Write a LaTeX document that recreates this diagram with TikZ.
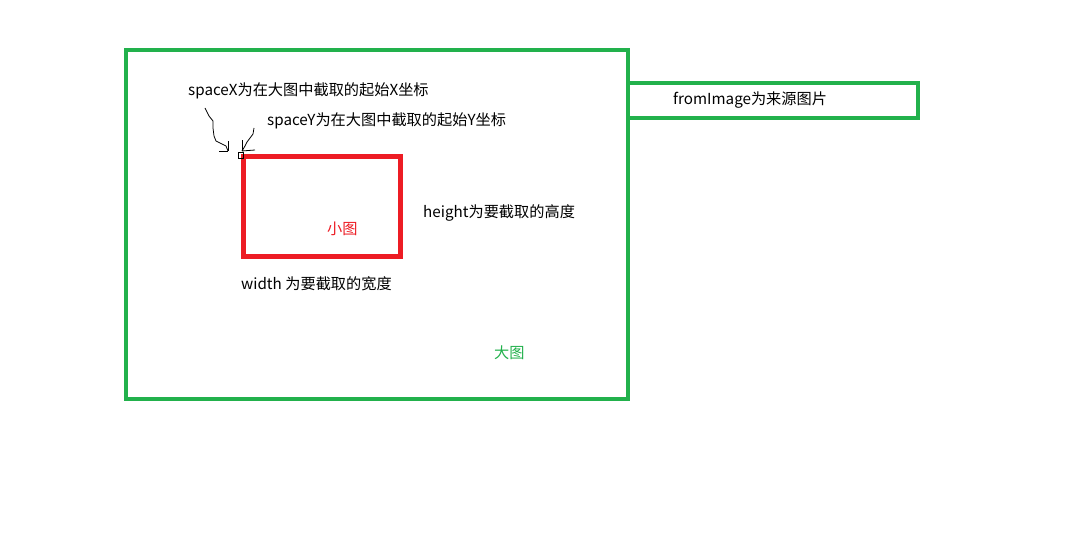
\documentclass[tikz,border=0pt]{standalone}
\usepackage{fontspec}
\setmainfont{Noto Sans CJK SC}
\definecolor{bggreen}{RGB}{34,177,76}
\definecolor{smred}{RGB}{237,28,36}
\begin{document}
\begin{tikzpicture}[x=1pt,y=-1pt,
  lbl/.style={anchor=west,inner sep=0pt,font=\fontsize{15.2}{16}\selectfont},
  gbox/.style={draw=bggreen,line width=4pt,inner sep=0pt,outer sep=0pt},
  rbox/.style={draw=smred,line width=5pt,inner sep=0pt},
  hand/.style={draw=black,line width=0.8pt}]
\useasboundingbox[fill=white] (0,0) rectangle (1079,534);
% boxes
\draw[gbox] (126,50) rectangle (628,399);
\node[gbox,minimum width=290pt,minimum height=35pt,anchor=north west] (src) at (628,83) {};
\draw[rbox] (243.5,157) rectangle (400.5,257);
% texts
\node[lbl] (sx) at (188,91) {spaceX为在大图中截取的起始X坐标};
\node[lbl] (sy) at (267,121) {spaceY为在大图中截取的起始Y坐标};
\node[lbl] (h) at (423,213) {height为要截取的高度};
\node[lbl,text=smred] (small) at (327,229) {小图};
\node[lbl] (w) at (241,284) {width 为要截取的宽度};
\node[lbl,text=bggreen] (bigl) at (494,353) {大图};
\node[lbl] (fi) at (673,100) {fromImage为来源图片};
% hand drawn arrows
\coordinate (tx) at (228,151);
\coordinate (ty) at (242,151);
\draw[hand] (205,108) -- (209,116) -- (213,121) -- (213,128) -- (214,136) -- (216,141) -- (222,144) -- (226,146) -- (tx);
\draw[hand] (tx) -- (219,151);
\draw[hand] (tx) -- (228,141);
\draw[hand] (254,128) -- (253,134) -- (250,138) -- (247,142) -- (245,146) -- (ty);
\draw[hand] (ty) -- (242,140);
\draw[hand] (ty) -- (255,150);
\draw[hand] (238,152) rectangle (243,158);
\end{tikzpicture}
\end{document}
